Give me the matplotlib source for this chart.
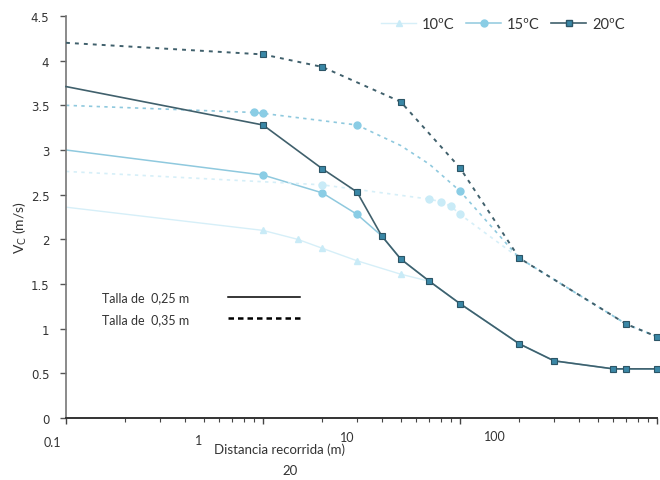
import matplotlib
matplotlib.use("Agg")
import matplotlib.pyplot as plt
from matplotlib.lines import Line2D

# ---------------- data ----------------
# Talla 0,25 m (solid)
x_10_025 = [0.1, 1, 1.5, 2, 3, 5, 7, 10, 20, 30, 60, 70, 100]
v_10_025 = [2.36, 2.10, 2.00, 1.90, 1.76, 1.61, 1.53, 1.28, 0.83, 0.64, 0.55, 0.55, 0.55]
x_15_025 = [0.1, 1, 2, 3, 4, 5, 7, 10, 20, 30, 60, 70, 100]
v_15_025 = [3.00, 2.72, 2.52, 2.28, 2.04, 1.78, 1.53, 1.28, 0.83, 0.64, 0.55, 0.55, 0.55]
x_20_025 = [0.1, 1, 2, 3, 4, 5, 7, 10, 20, 30, 60, 70, 100]
v_20_025 = [3.71, 3.28, 2.79, 2.53, 2.04, 1.78, 1.53, 1.28, 0.83, 0.64, 0.55, 0.55, 0.55]

# Talla 0,35 m (dotted)
x_10_035 = [0.1, 2, 7, 8, 9, 10, 20, 70, 100]
v_10_035 = [2.76, 2.61, 2.45, 2.42, 2.37, 2.28, 1.79, 1.05, 0.91]
x_15_035 = [0.1, 0.9, 1, 3, 5, 7, 10, 20, 70, 100]
v_15_035 = [3.50, 3.42, 3.41, 3.28, 3.05, 2.84, 2.54, 1.79, 1.05, 0.91]
x_20_035 = [0.1, 1, 2, 5, 10, 20, 70, 100]
v_20_035 = [4.20, 4.07, 3.93, 3.54, 2.80, 1.79, 1.05, 0.91]

temps = ["10ºC", "15ºC", "20ºC"]
y_ticks = [0, 0.5, 1, 1.5, 2, 2.5, 3, 3.5, 4, 4.5]
y_tick_labels = ["0", "0.5", "1", "1.5", "2", "2.5", "3", "3.5", "4", "4.5"]
x_tick_labels = ["0.1", "1", "10", "100"]
size_labels = ["Talla de  0,25 m", "Talla de  0,35 m"]

# ---------------- style ----------------
W, H = 660, 481
fig = plt.figure(figsize=(W / 100, H / 100), dpi=100)
ax = fig.add_axes([66 / W, 1 - 419 / H, (657 - 66) / W, (419 - 17) / H])

c10_line, c10_mk = "#d6eff8", "#c9ebf7"
c15_line, c15_mk = "#8fc9de", "#8acde5"
c20_line, c20_mk = "#40606c", "#3a87a6"
dot = (0, (2.0, 2.6))

# solid series
ax.plot(x_10_025, v_10_025, color=c10_line, lw=1.0, marker="^", ms=5,
        mfc=c10_mk, mec=c10_mk, markevery=list(range(1, len(x_10_025))))
ax.plot(x_15_025, v_15_025, color=c15_line, lw=1.1, marker="o", ms=5,
        mfc=c15_mk, mec=c15_mk, markevery=[1, 2, 3])
ax.plot(x_20_025, v_20_025, color=c20_line, lw=1.2, marker="s", ms=5,
        mfc=c20_mk, mec="#2c5566", mew=0.8, markevery=list(range(1, len(x_20_025))),
        clip_on=False, zorder=5)

# dotted series
ax.plot(x_10_035, v_10_035, color=c10_line, lw=1.2, ls=dot, marker="o", ms=5,
        mfc=c10_mk, mec=c10_mk, markevery=[1, 2, 3, 4, 5])
ax.plot(x_15_035, v_15_035, color=c15_line, lw=1.2, ls=dot, marker="o", ms=5,
        mfc=c15_mk, mec=c15_mk, markevery=[1, 2, 3, 6])
ax.plot(x_20_035, v_20_035, color=c20_line, lw=1.4, ls=dot, marker="s", ms=4.5,
        mfc=c20_mk, mec="#2c5566", mew=0.8, markevery=list(range(1, len(x_20_035))),
        clip_on=False, zorder=5)

ax.set_xscale("log")
ax.set_xlim(0.1, 100)
ax.set_ylim(0, 4.5)
ax.set_yticks(y_ticks)
ax.set_yticklabels(y_tick_labels, fontsize=8.5, color="#333333", family="DejaVu Sans")
ax.tick_params(axis="y", direction="out", length=4, width=1, color="#555555", pad=8)
ax.tick_params(axis="x", which="major", direction="out", length=4, width=1,
               color="#444444", labelbottom=False)
ax.tick_params(axis="x", which="minor", direction="out", length=3, width=0.8,
               color="#444444", labelbottom=False)
for s in ["top", "right"]:
    ax.spines[s].set_visible(False)
ax.spines["left"].set_color("#777777")
ax.spines["left"].set_linewidth(1.2)
ax.spines["bottom"].set_color("#333333")
ax.spines["bottom"].set_linewidth(1.4)

# x tick labels as printed in the scanned figure
label_px = [(52, 443), (199, 441), (347, 438), (495, 437)]
for lab, (px, py) in zip(x_tick_labels, label_px):
    fig.text(px / W, 1 - py / H, lab, ha="center", va="center", fontsize=9,
             color="#333333", family="Lato")

fig.text(279 / W, 1 - 450 / H, "Distancia recorrida (m)", ha="center", va="center",
         fontsize=9.5, color="#333333", family="Lato")
fig.text(290 / W, 1 - 471 / H, "20", ha="center", va="center", fontsize=9.5,
         color="#333333", family="Lato")
fig.text(20 / W, 1 - 228 / H, "V$_{\\rm C}$ (m/s)", ha="center", va="center",
         rotation=90, fontsize=10, color="#333333", family="Lato")

# temperature legend
th = [Line2D([], [], color=c10_line, lw=1.0, marker="^", ms=5, mfc=c10_mk, mec=c10_mk),
      Line2D([], [], color=c15_line, lw=1.1, marker="o", ms=5, mfc=c15_mk, mec=c15_mk),
      Line2D([], [], color=c20_line, lw=1.2, marker="s", ms=5, mfc=c20_mk, mec="#2c5566")]
leg1 = fig.legend(th, temps, loc="center", bbox_to_anchor=(503 / W, 1 - 25 / H), ncol=3,
                  frameon=False, handlelength=2.4, handletextpad=0.4, columnspacing=0.8,
                  prop={"family": "Lato", "size": 10.5})
for t in leg1.get_texts():
    t.set_color("#333333")

# size legend
sh = [Line2D([], [], color="black", lw=1.1),
      Line2D([], [], color="black", lw=1.8, ls=(0, (2.2, 1.6)))]
leg2 = ax.legend(sh, size_labels, loc="center", bbox_to_anchor=(201 / W, 1 - 309 / H),
                 bbox_transform=fig.transFigure, frameon=False, markerfirst=False,
                 handlelength=5.8, handletextpad=3.1, labelspacing=0.75,
                 prop={"family": "Lato", "size": 9})
for t in leg2.get_texts():
    t.set_color("#333333")

fig.savefig("out.png", dpi=100)
